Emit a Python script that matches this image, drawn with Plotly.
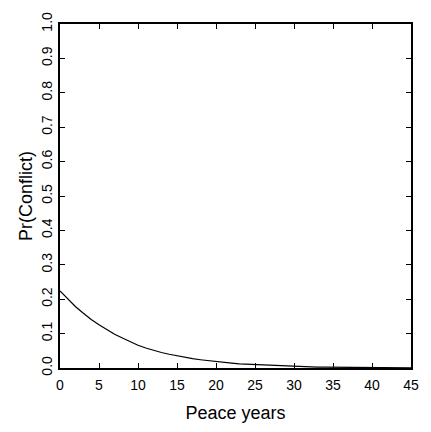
import plotly.graph_objects as go

peace_years = list(range(0, 46))
pr_conflict = [0.224, 0.200, 0.178, 0.159, 0.141, 0.126, 0.111, 0.098, 0.087, 0.076,
               0.066, 0.058, 0.051, 0.045, 0.040, 0.035, 0.031, 0.027, 0.024, 0.021,
               0.019, 0.016, 0.014, 0.012, 0.011, 0.009, 0.008, 0.007, 0.006, 0.005,
               0.004, 0.0036, 0.003, 0.0027, 0.0023, 0.002, 0.0017, 0.0015, 0.0013, 0.0011,
               0.001, 0.0008, 0.0007, 0.0006, 0.0005, 0.0004]

x_ticks = [0, 5, 10, 15, 20, 25, 30, 35, 40, 45]
y_ticks = [0.0, 0.1, 0.2, 0.3, 0.4, 0.5, 0.6, 0.7, 0.8, 0.9, 1.0]

fig = go.Figure()
fig.add_trace(go.Scatter(x=peace_years, y=pr_conflict, mode="lines",
                         line=dict(color="black", width=1.2), showlegend=False,
                         cliponaxis=True))

font = dict(family="Liberation Sans, Arial, sans-serif", size=14, color="black")
title_font = dict(family="Liberation Sans, Arial, sans-serif", size=18, color="black")
fig.update_layout(
    width=431, height=432,
    margin=dict(l=60, r=15, t=15, b=59),
    paper_bgcolor="white", plot_bgcolor="white",
    font=font,
    xaxis=dict(range=[0, 45], tickvals=x_ticks, ticks="inside", ticklen=5, tickwidth=1,
               tickcolor="black", showline=True, linecolor="black", linewidth=2,
               mirror="ticks", showgrid=False, zeroline=False, ticklabelstandoff=3,
               title=dict(text="Peace years", standoff=15, font=title_font), tickfont=font),
    yaxis=dict(range=[0, 1], tickvals=y_ticks, tickformat=".1f", ticks="inside", ticklen=5,
               tickwidth=1, tickcolor="black", showline=True, linecolor="black", linewidth=2,
               mirror="ticks", showgrid=False, zeroline=False, tickangle=-90,
               title=dict(text="Pr(Conflict)", standoff=2, font=title_font), tickfont=font),
)

fig.write_html("out.html")
